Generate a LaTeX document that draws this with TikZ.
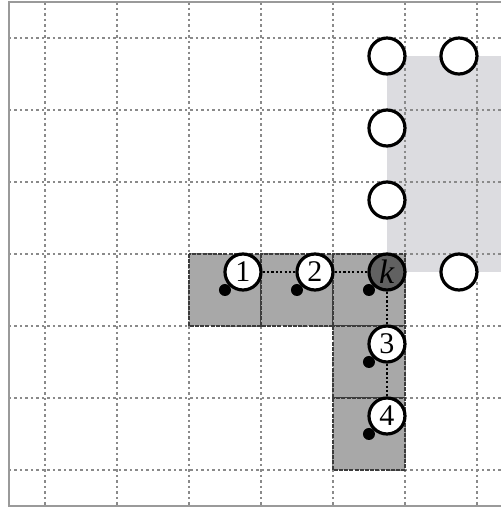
\documentclass[tikz,border=0pt]{standalone}
\usepackage{fontspec}
\setmainfont{Liberation Serif}
\usepackage{xcolor}
\definecolor{gridGray}{HTML}{8A8A8A}
\definecolor{frameGray}{HTML}{9A9A9A}
\definecolor{cellGray}{HTML}{A8A8A8}
\definecolor{cellEdge}{HTML}{3C3C3C}
\definecolor{regionGray}{HTML}{DCDCE0}
\definecolor{keyGray}{HTML}{616161}

\begin{document}
\begin{tikzpicture}[x=72pt, y=-72pt,
  gridline/.style={gridGray, line width=1.4pt, dash pattern=on 2.5pt off 3pt},
  cell/.style={fill=cellGray, draw=cellEdge, line width=2.4pt, dash pattern=on 4pt off 1.2pt},
  site/.style={circle, draw, line width=3.2pt, fill=white, minimum size=36pt, inner sep=0pt, font=\fontsize{30}{32}\selectfont},
  dot/.style={circle, fill=black, minimum size=12pt, inner sep=0pt},
  link/.style={line width=2.8pt, dash pattern=on 2.2pt off 2.2pt}]
  \useasboundingbox (-0.625,-0.528) rectangle (6.333,6.528);
  \clip (-0.625,-0.528) rectangle (6.333,6.528);
  % free region
  \fill[regionGray] (4.75,0.25) rectangle (6.5,3.25);
  % grid and frame
  \foreach \i in {0,...,6} {
    \draw[gridline] (\i,-0.5) -- (\i,6.5);
    \draw[gridline] (-0.5,\i) -- (6.5,\i);
  }
  \draw[frameGray, line width=1.8pt] (-0.5,-0.5) rectangle (6.5,6.5);
  % occupied cells
  \foreach \c/\r in {2/3, 3/3, 4/3, 4/4, 4/5}
    \draw[cell] (\c,\r) rectangle ++(1,1);
  \foreach \n/\c/\r in {1/2/3, 2/3/3, k/4/3, 3/4/4, 4/4/5}
    \node[dot] (d\n) at (\c+0.5,\r+0.5) {};
  % numbered sites
  \node[site] (s1) at (2.75,3.25) {1};
  \node[site] (s2) at (3.75,3.25) {2};
  \node[site, fill=keyGray, font=\fontsize{34}{36}\selectfont] (sk) at (4.75,3.25) {\textit{k}};
  \node[site] (s3) at (4.75,4.25) {3};
  \node[site] (s4) at (4.75,5.25) {4};
  % empty sites
  \foreach \n/\x/\y in {a/4.75/0.25, b/5.75/0.25, c/4.75/1.25, d/4.75/2.25, e/5.75/3.25}
    \node[site] (o\n) at (\x,\y) {};
  \draw[link] (s1) -- (s2);
  \draw[link] (s2) -- (sk);
  \draw[link] (sk) -- (s3);
  \draw[link] (s3) -- (s4);
\end{tikzpicture}
\end{document}
